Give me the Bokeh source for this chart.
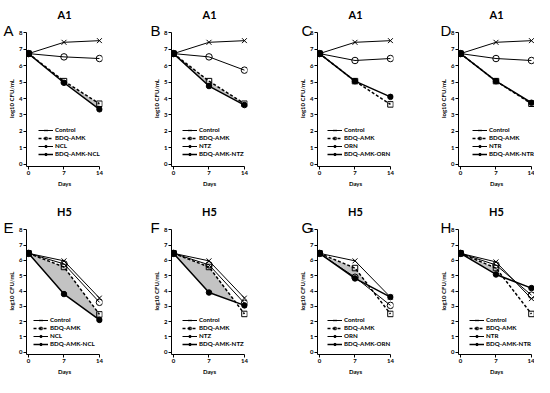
from bokeh.plotting import figure
from bokeh.models import Legend, LegendItem, Range1d, Title
from bokeh.layouts import column, row
from bokeh.embed import file_html
from bokeh.resources import INLINE

# ---------------- data ----------------
days = [0, 7, 14]
panel_letters = ["A", "B", "C", "D", "E", "F", "G", "H"]
strain_titles = ["A1", "A1", "A1", "A1", "H5", "H5", "H5", "H5"]
mono_names = ["NCL", "NTZ", "ORN", "NTR", "NCL", "NTZ", "ORN", "NTR"]
y_ticks = [0, 1, 2, 3, 4, 5, 6, 7, 8]

control = [
    [6.74, 7.43, 7.53], [6.74, 7.43, 7.53], [6.74, 7.43, 7.53], [6.74, 7.43, 7.53],
    [6.46, 5.97, 3.54], [6.46, 5.97, 3.54], [6.46, 5.97, 3.60], [6.46, 5.90, 3.50],
]
bdq_amk = [
    [6.74, 5.06, 3.68], [6.74, 5.06, 3.68], [6.74, 5.06, 3.64], [6.74, 5.06, 3.68],
    [6.46, 5.57, 2.47], [6.46, 5.57, 2.50], [6.46, 5.50, 2.50], [6.46, 5.50, 2.50],
]
mono = [
    [6.74, 6.54, 6.44], [6.74, 6.54, 5.73], [6.74, 6.32, 6.44], [6.74, 6.44, 6.32],
    [6.46, 5.77, 3.26], [6.46, 5.71, 3.20], [6.46, 4.90, 3.06], [6.46, 5.70, 3.73],
]
combo = [
    [6.74, 4.96, 3.34], [6.74, 4.76, 3.60], [6.74, 5.06, 4.10], [6.74, 5.06, 3.74],
    [6.46, 3.80, 2.11], [6.46, 3.90, 3.06], [6.46, 4.82, 3.60], [6.46, 5.08, 4.19],
]

# ---------------- layout (pixels / axis extents only) ----------------
X0, X1 = -0.4, 14.6
Y0, Y1 = -0.15, 8.15
frame_w = 76
fig_w = [148, 146, 141, 99]
bord_l = [26, 23, 23, 23]
letter_off = [-23, -21, -16, -18]
fig_h = [197, 180]
bord_b = [31, 22]
letter_standoff = -17
title_standoff = 13
legend_loc = [(12, 9), (11, 9), (10, 9), (14, 9), (7, 7), (11, 7), (10, 7), (11, 7)]

FONT = "Lato"


def fill_points(x, upper, lower):
    xs, y1, y2 = [], [], []
    for k in range(len(x)):
        xs.append(x[k])
        y1.append(upper[k])
        y2.append(min(upper[k], lower[k]))
        if k + 1 < len(x):
            d0 = upper[k] - lower[k]
            d1 = upper[k + 1] - lower[k + 1]
            if d0 * d1 < 0:
                t = d0 / (d0 - d1)
                xc = x[k] + t * (x[k + 1] - x[k])
                yc = upper[k] + t * (upper[k + 1] - upper[k])
                xs.append(xc)
                y1.append(yc)
                y2.append(yc)
    return xs, y1, y2


def make_panel(i):
    r, c = divmod(i, 4)
    p = figure(
        width=fig_w[c], height=fig_h[r],
        x_range=Range1d(X0, X1), y_range=Range1d(Y0, Y1),
        output_backend="svg", toolbar_location=None,
        min_border_left=bord_l[c],
        min_border_right=fig_w[c] - bord_l[c] - frame_w,
        min_border_top=0,
        min_border_bottom=bord_b[r],
    )
    p.title.text = ""
    p.title.visible = False
    p.outline_line_color = None
    p.xgrid.visible = False
    p.ygrid.visible = False
    p.background_fill_color = "white"
    p.border_fill_color = "white"

    for ax in (p.xaxis[0], p.yaxis[0]):
        ax.axis_line_color = "black"
        ax.axis_line_width = 1
        ax.major_tick_line_color = "black"
        ax.major_tick_out = 3
        ax.major_tick_in = 0
        ax.minor_tick_line_color = None
        ax.major_label_text_font = FONT
        ax.major_label_text_font_style = "bold"
        ax.major_label_text_font_size = "6px"
        ax.major_label_text_color = "black"
        ax.major_label_standoff = 1
        ax.axis_label_text_font = FONT
        ax.axis_label_text_font_style = "bold"
        ax.axis_label_text_font_size = "6px"
        ax.axis_label_text_color = "black"
    p.xaxis.ticker = days
    p.yaxis.ticker = y_ticks
    p.xaxis.bounds = (X0, 14)
    p.yaxis.bounds = (Y0, 8)
    p.xaxis.axis_label = "Days"
    p.yaxis.axis_label = "log10 CFU/mL"
    p.xaxis.axis_label_standoff = 2
    p.yaxis.axis_label_standoff = 1

    xs, y1, y2 = fill_points(days, bdq_amk[i], combo[i])
    p.varea(x=xs, y1=y1, y2=y2, fill_color="#c3c3c3")

    l_ctrl = p.line(days, control[i], line_color="black", line_width=1)
    s_ctrl = p.scatter(days, control[i], marker="x", size=7, line_color="black", line_width=1)
    l_mono = p.line(days, mono[i], line_color="black", line_width=1)
    s_mono = p.scatter(days, mono[i], marker="circle", size=6.5, line_color="black",
                       fill_alpha=0, line_width=1)
    l_bdq = p.line(days, bdq_amk[i], line_color="black", line_width=1.5, line_dash="3 2")
    s_bdq = p.scatter(days, bdq_amk[i], marker="square", size=5.5, line_color="black",
                      fill_alpha=0, line_width=1)
    l_cmb = p.line(days, combo[i], line_color="black", line_width=1.5)
    s_cmb = p.scatter(days, combo[i], marker="circle", size=5.5, line_color="black",
                      fill_color="black")

    legend = Legend(
        items=[
            LegendItem(label="Control", renderers=[l_ctrl, s_ctrl]),
            LegendItem(label="BDQ-AMK", renderers=[l_bdq, s_bdq]),
            LegendItem(label=mono_names[i], renderers=[l_mono, s_mono]),
            LegendItem(label="BDQ-AMK-" + mono_names[i], renderers=[l_cmb, s_cmb]),
        ],
        location=legend_loc[i],
        background_fill_alpha=0, border_line_color=None,
        label_text_font=FONT, label_text_font_style="bold",
        label_text_font_size="6.2px", label_text_color="black",
        glyph_width=15, glyph_height=6, label_height=6,
        spacing=1, padding=0, margin=0, label_standoff=2,
    )
    p.add_layout(legend)

    # panel letter: slot nearest the frame, text pushed down beside the y axis
    p.add_layout(Title(text=panel_letters[i], align="left", offset=letter_off[c],
                       vertical_align="bottom", standoff=letter_standoff,
                       text_font="Liberation Sans", text_font_style="normal",
                       text_font_size="15px", text_color="black"), "above")
    # strain title on top
    p.add_layout(Title(text=strain_titles[i], align="center", vertical_align="middle",
                       standoff=title_standoff, text_font=FONT, text_font_style="bold",
                       text_font_size="11px", text_color="black"), "above")
    return p


panels = [make_panel(i) for i in range(8)]
layout = column(row(*panels[:4]), row(*panels[4:]))

open("out.html", "w").write(file_html(layout, INLINE))
